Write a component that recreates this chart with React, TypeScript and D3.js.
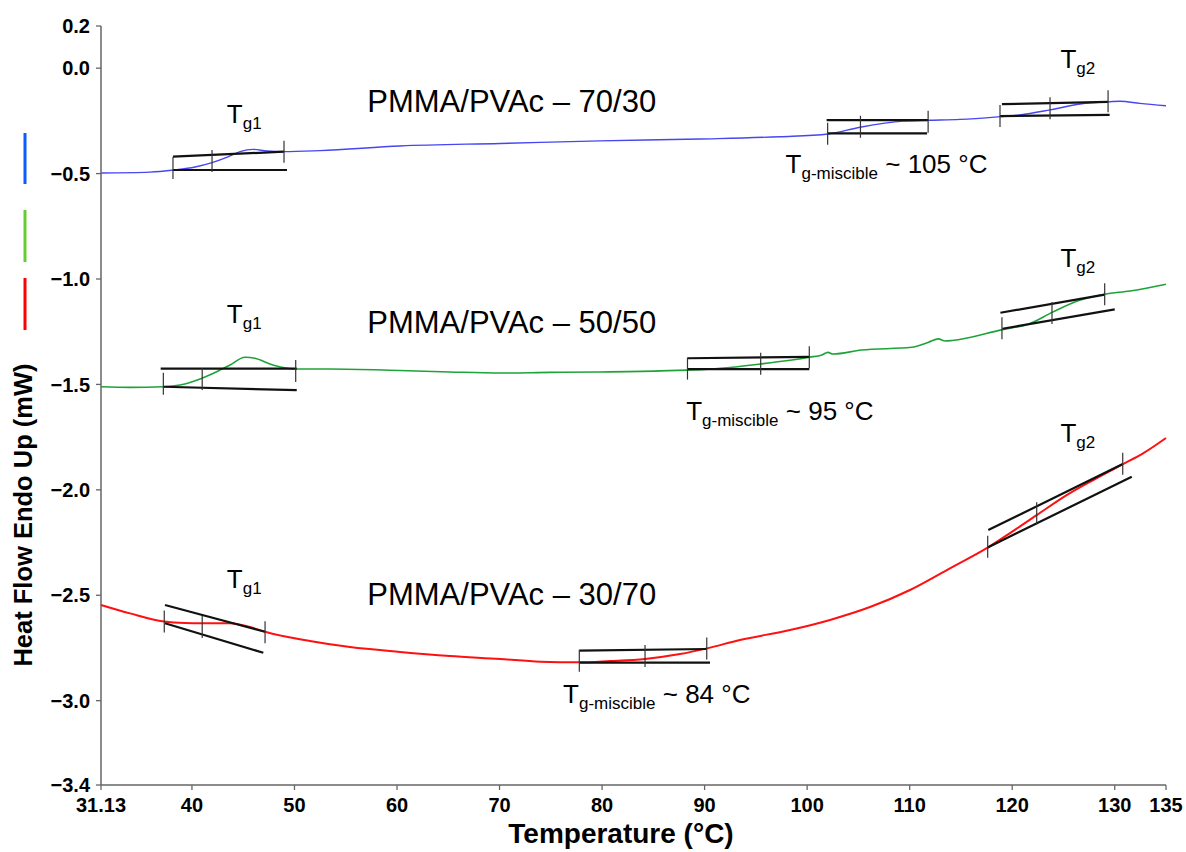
import React from 'react';
import * as d3 from 'd3';

// ---------- axis ticks ----------
const xTickValues = [31.13, 40, 50, 60, 70, 80, 90, 100, 110, 120, 130, 135];
const yTickValues = [0.2, 0.0, -0.5, -1.0, -1.5, -2.0, -2.5, -3.0, -3.4];

// ---------- DSC curves: [temperature °C, heat flow mW] ----------
const curve7030: [number, number][] = [
  [31.13, -0.497], [35.91, -0.493], [38.25, -0.483], [40.3, -0.469], [41.96, -0.448],
  [43.52, -0.421], [44.69, -0.396], [45.95, -0.385], [47.32, -0.393], [48.98, -0.396],
  [52.49, -0.391], [60.29, -0.369], [70.05, -0.357], [79.8, -0.345], [89.55, -0.336],
  [97.35, -0.325], [102.04, -0.312], [105.16, -0.28], [109.35, -0.251], [111.79, -0.247],
  [114.91, -0.243], [118.81, -0.23], [120.76, -0.222], [123.69, -0.198], [126.62, -0.17],
  [129.54, -0.159], [130.52, -0.157], [132.46, -0.167], [135.0, -0.178],
];

const curve5050: [number, number][] = [
  [31.13, -1.511], [33.96, -1.514], [37.21, -1.511], [38.84, -1.503], [40.98, -1.471],
  [42.41, -1.44], [43.71, -1.408], [45.17, -1.371], [46.15, -1.376], [47.61, -1.403],
  [48.75, -1.419], [50.22, -1.427], [53.47, -1.427], [60.29, -1.434], [65.17, -1.441],
  [70.05, -1.446], [74.92, -1.443], [79.8, -1.441], [85.65, -1.436], [88.26, -1.432],
  [91.54, -1.424], [95.47, -1.403], [100.21, -1.371], [101.45, -1.36], [102.02, -1.348],
  [102.52, -1.356], [105.28, -1.337], [110.2, -1.324], [111.84, -1.3], [112.81, -1.284],
  [113.45, -1.294], [114.13, -1.292], [119.04, -1.24], [121.64, -1.213], [123.94, -1.157],
  [126.57, -1.101], [129.02, -1.072], [131.49, -1.057], [135.0, -1.025],
];

const curve3070: [number, number][] = [
  [31.13, -2.546], [33.96, -2.586], [37.27, -2.625], [39.32, -2.632], [40.98, -2.633],
  [43.71, -2.633], [45.66, -2.651], [47.13, -2.673], [51.51, -2.717], [55.42, -2.746],
  [60.29, -2.769], [65.17, -2.788], [70.05, -2.802], [73.95, -2.815], [77.75, -2.818],
  [80.77, -2.812], [84.19, -2.802], [87.6, -2.779], [90.23, -2.752], [93.45, -2.712],
  [98.33, -2.665], [102.23, -2.617], [106.13, -2.556], [110.03, -2.475], [113.93, -2.372],
  [117.64, -2.273], [119.79, -2.205], [122.42, -2.119], [125.35, -2.024], [128.08, -1.949],
  [130.81, -1.878], [132.76, -1.827], [135.0, -1.754],
];

// ---------- tangent (onset/midpoint/endset) constructions ----------
// each segment: [[T1, v1], [T2, v2]]
const tangents7030: [number, number][][] = [
  [[38.15, -0.42], [48.98, -0.396]], [[38.15, -0.483], [49.27, -0.483]],
  [[101.9, -0.246], [111.8, -0.246]], [[102.0, -0.309], [111.7, -0.309]],
  [[119.0, -0.171], [129.35, -0.16]], [[118.8, -0.227], [129.5, -0.222]],
];
const tangents5050: [number, number][][] = [
  [[36.95, -1.425], [50.22, -1.425]], [[37.21, -1.511], [50.22, -1.527]],
  [[88.33, -1.376], [100.21, -1.369]], [[88.33, -1.427], [100.21, -1.427]],
  [[118.85, -1.16], [129.02, -1.074]], [[119.04, -1.236], [130.0, -1.144]],
];
const tangents3070: [number, number][][] = [
  [[37.37, -2.546], [47.13, -2.673]], [[37.37, -2.633], [46.96, -2.773]],
  [[77.78, -2.763], [90.21, -2.755]], [[77.78, -2.82], [90.53, -2.82]],
  [[117.67, -2.191], [130.78, -1.878]], [[117.61, -2.273], [131.66, -1.938]],
];
// small vertical markers: [T, heat flow at centre]
const markers7030: [number, number][] = [
  [38.15, -0.474], [41.96, -0.44], [48.98, -0.396],
  [102.0, -0.311], [105.2, -0.278], [111.8, -0.254],
  [118.81, -0.227], [123.69, -0.19], [129.35, -0.157],
];
const markers5050: [number, number][] = [
  [37.21, -1.497], [41.0, -1.474], [50.12, -1.436],
  [88.33, -1.425], [95.47, -1.402], [100.21, -1.371],
  [119.0, -1.234], [123.88, -1.161], [129.02, -1.072],
];
const markers3070: [number, number][] = [
  [37.3, -2.625], [41.0, -2.651], [47.13, -2.675],
  [77.78, -2.811], [84.19, -2.788], [90.21, -2.752],
  [117.61, -2.27], [122.39, -2.111], [130.78, -1.876],
];

// ---------- labels ----------
const blendNames = ['PMMA/PVAc \u2013 70/30', 'PMMA/PVAc \u2013 50/50', 'PMMA/PVAc \u2013 30/70'];
const miscibleTemps = ['105', '95', '84'];

const W = 1186;
const H = 852;
const FONT = '"Liberation Sans", Arial, Helvetica, sans-serif';

export default function App() {
  const x = d3.scaleLinear().domain([31.13, 135]).range([101, 1166]);
  const y = d3.scaleLinear().domain([-3.4, 0.2]).range([785, 26]);
  const line = d3
    .line<[number, number]>()
    .x((d) => x(d[0]))
    .y((d) => y(d[1]))
    .curve(d3.curveMonotoneX);
  const seg = d3
    .line<[number, number]>()
    .x((d) => x(d[0]))
    .y((d) => y(d[1]));

  const fmtY = (v: number) => (v < 0 ? '\u2212' + Math.abs(v).toFixed(1) : v.toFixed(1));
  const fmtX = (v: number) => String(v);

  const series = [
    { data: curve7030, tangents: tangents7030, markers: markers7030, color: '#4646f2', w: 1.4 },
    { data: curve5050, tangents: tangents5050, markers: markers5050, color: '#1ea33a', w: 1.6 },
    { data: curve3070, tangents: tangents3070, markers: markers3070, color: '#ff1010', w: 2 },
  ];

  // label anchor positions in data space
  const nameAnchors: [number, number][] = [[57.1, -0.21], [57.1, -1.255], [57.1, -2.545]];
  const tg1Anchors: [number, number][] = [[43.4, -0.26], [43.4, -1.209], [43.4, -2.466]];
  const tg2Anchors: [number, number][] = [[124.7, 0.0], [124.7, -0.943], [124.7, -1.773]];
  const miscAnchors: [number, number][] = [[97.9, -0.498], [88.2, -1.67], [76.2, -3.011]];

  const legendColors = ['#0a5cff', '#66cc33', '#ff0000'];
  const legendY: [number, number][] = [[133, 184], [210, 262], [278, 330]];

  const Tsub = (px: number, py: number, sub: string, tail?: string) => (
    <text x={px} y={py} fontFamily={FONT} fontSize={26} fill="#000">
      T
      <tspan fontSize={17} dy={6}>{sub}</tspan>
      {tail ? <tspan fontSize={26} dy={-6}>{tail}</tspan> : null}
    </text>
  );

  return (
    <svg
      width={W}
      height={H}
      style={{ position: 'absolute', left: 0, top: 0, background: '#fff' }}
      xmlns="http://www.w3.org/2000/svg"
    >
      <rect x={0} y={0} width={W} height={H} fill="#fff" />

      {/* legend marks */}
      {legendColors.map((c, i) => (
        <line key={c} x1={25} x2={25} y1={legendY[i][0]} y2={legendY[i][1]} stroke={c} strokeWidth={3} />
      ))}

      {/* axes */}
      <line x1={x(31.13)} x2={x(31.13)} y1={y(0.2)} y2={y(-3.4)} stroke="#666" strokeWidth={1.5} />
      <line x1={x(31.13)} x2={x(135)} y1={y(-3.4)} y2={y(-3.4)} stroke="#666" strokeWidth={1.5} />
      {yTickValues.map((v) => (
        <g key={'y' + v}>
          <line x1={x(31.13) - 5} x2={x(31.13)} y1={y(v)} y2={y(v)} stroke="#666" strokeWidth={1.3} />
          <text
            x={90}
            y={y(v)}
            dy="0.36em"
            textAnchor="end"
            fontFamily={FONT}
            fontWeight="bold"
            fontSize={20}
            fill="#000"
          >
            {fmtY(v)}
          </text>
        </g>
      ))}
      {xTickValues.map((v) => (
        <g key={'x' + v}>
          <line x1={x(v)} x2={x(v)} y1={y(-3.4)} y2={y(-3.4) + 5} stroke="#666" strokeWidth={1.3} />
          <text
            x={x(v)}
            y={812}
            textAnchor="middle"
            fontFamily={FONT}
            fontWeight="bold"
            fontSize={20}
            fill="#000"
          >
            {fmtX(v)}
          </text>
        </g>
      ))}

      {/* axis titles */}
      <text
        x={621}
        y={843}
        textAnchor="middle"
        fontFamily={FONT}
        fontWeight="bold"
        fontSize={28}
        fill="#000"
      >
        Temperature (°C)
      </text>
      <text
        transform="translate(32,515) rotate(-90)"
        textAnchor="middle"
        fontFamily={FONT}
        fontWeight="bold"
        fontSize={25.5}
        fill="#000"
      >
        Heat Flow Endo Up (mW)
      </text>

      {/* curves */}
      {series.map((s, i) => (
        <path key={'c' + i} d={line(s.data) || ''} fill="none" stroke={s.color} strokeWidth={s.w} />
      ))}

      {/* tangent constructions */}
      {series.map((s, i) => (
        <g key={'t' + i}>
          {s.tangents.map((t, j) => (
            <path key={j} d={seg(t) || ''} fill="none" stroke="#111" strokeWidth={2.2} />
          ))}
          {s.markers.map((m, j) => (
            <line
              key={'m' + j}
              x1={x(m[0])}
              x2={x(m[0])}
              y1={y(m[1]) - 11}
              y2={y(m[1]) + 11}
              stroke="#333"
              strokeWidth={1.2}
            />
          ))}
        </g>
      ))}

      {/* blend names */}
      {blendNames.map((n, i) => (
        <text
          key={n}
          x={x(nameAnchors[i][0])}
          y={y(nameAnchors[i][1])}
          fontFamily={FONT}
          fontSize={31}
          fill="#000"
        >
          {n}
        </text>
      ))}

      {/* Tg labels */}
      {tg1Anchors.map((a, i) => (
        <g key={'g1' + i}>{Tsub(x(a[0]), y(a[1]), 'g1')}</g>
      ))}
      {tg2Anchors.map((a, i) => (
        <g key={'g2' + i}>{Tsub(x(a[0]), y(a[1]), 'g2')}</g>
      ))}
      {miscAnchors.map((a, i) => (
        <g key={'gm' + i}>{Tsub(x(a[0]), y(a[1]), 'g-miscible', ' ~ ' + miscibleTemps[i] + ' °C')}</g>
      ))}
    </svg>
  );
}
